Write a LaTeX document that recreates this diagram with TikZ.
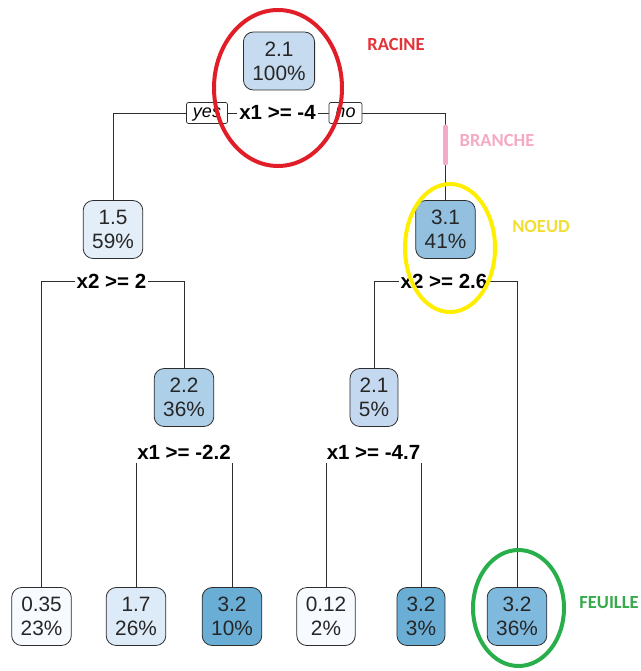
\documentclass[tikz,border=0pt]{standalone}
\usepackage{fontspec}
\setmainfont{Liberation Sans}
\newfontfamily\carlito{Carlito}
\usetikzlibrary{backgrounds}
\definecolor{cA}{RGB}{198,219,239}
\definecolor{cB}{RGB}{227,238,249}
\definecolor{cC}{RGB}{146,192,222}
\definecolor{cD}{RGB}{173,207,232}
\definecolor{cE}{RGB}{196,217,240}
\definecolor{cF}{RGB}{247,251,255}
\definecolor{cG}{RGB}{221,234,247}
\definecolor{cH}{RGB}{106,174,214}
\definecolor{cI}{RGB}{128,185,222}
\definecolor{lineC}{RGB}{45,45,45}
\definecolor{redA}{RGB}{225,30,40}
\definecolor{yelA}{RGB}{255,238,0}
\definecolor{grnA}{RGB}{40,175,75}
\definecolor{pinkA}{RGB}{242,170,200}
\definecolor{txRed}{RGB}{228,50,55}
\definecolor{txPink}{RGB}{245,170,195}
\definecolor{txYel}{RGB}{242,222,50}
\definecolor{txGrn}{RGB}{55,170,75}
\tikzset{
  tnode/.style={draw=lineC, rounded corners=10pt, minimum height=58pt, inner xsep=9pt, inner ysep=2pt, align=center, font=\fontsize{20.8}{24}\selectfont, text=black!85, line width=0.8pt},
  split/.style={fill=white, inner xsep=2pt, inner ysep=3pt, font=\bfseries\fontsize{20.5}{24}\selectfont, text height=15pt, text depth=1pt},
  yn/.style={draw=lineC, fill=white, rounded corners=2pt, font=\itshape\fontsize{18}{20}\selectfont, inner xsep=6.5pt, inner ysep=0pt, text height=15pt, text depth=6pt, line width=0.7pt},
  conn/.style={draw=lineC, line width=0.8pt},
  annot/.style={font=\carlito\bfseries\fontsize{18.5}{20}\selectfont},
  ring/.style={line width=4pt}
}
\begin{document}
\begin{tikzpicture}[x=1pt,y=-1pt]
\useasboundingbox (0,0) rectangle (640,671);
% tree nodes
\node[tnode, fill=cA] (n1) at (279,61) {2.1\\100\%};
\node[split] (s1) at (277.5,113) {x1 >= -4};
\node[yn] (yes) at (207,113) {yes};
\node[yn] (no) at (345.5,113) {no};
\node[tnode, fill=cB] (n2) at (113,229.5) {1.5\\59\%};
\node[tnode, fill=cC] (n3) at (445.5,229.5) {3.1\\41\%};
\node[split] (s2) at (111.5,281) {x2 >= 2};
\node[split] (s3) at (444,281) {x2 >= 2.6};
\node[tnode, fill=cD] (n4) at (184,397.5) {2.2\\36\%};
\node[tnode, fill=cE] (n5) at (374,397.5) {2.1\\5\%};
\node[split] (s4) at (184,452) {x1 >= -2.2};
\node[split] (s5) at (373.5,452) {x1 >= -4.7};
\node[tnode, fill=cF] (l1) at (41.5,616.5) {0.35\\23\%};
\node[tnode, fill=cG] (l2) at (136,616.5) {1.7\\26\%};
\node[tnode, fill=cH] (l3) at (232,616.5) {3.2\\10\%};
\node[tnode, fill=cF] (l4) at (326,616.5) {0.12\\2\%};
\node[tnode, fill=cH] (l5) at (421,616.5) {3.2\\3\%};
\node[tnode, fill=cI] (l6) at (517,616.5) {3.2\\36\%};
% connectors
\begin{pgfonlayer}{background}
\draw[conn] (s1.center) -| (n2.north);
\draw[conn] (s1.center) -| (n3.north);
\draw[conn] (s2.center) -| (l1.north);
\draw[conn] (s2.center) -| (n4.north);
\draw[conn] (s3.center) -| (n5.north);
\draw[conn] (s3.center) -| (l6.north);
\draw[conn] (s4.center) -| (l2.north);
\draw[conn] (s4.center) -| (l3.north);
\draw[conn] (s5.center) -| (l4.north);
\draw[conn] (s5.center) -| (l5.north);
\end{pgfonlayer}
% annotations
\draw[pinkA, line width=5pt, line cap=round] (445.5,127) -- (445.5,163);
\draw[ring, redA] (278,88) ellipse [x radius=64, y radius=78];
\draw[ring, yelA] (450,248) ellipse [x radius=45, y radius=64];
\draw[ring, grnA] (518.5,608) ellipse [x radius=45.5, y radius=58];
\node[annot, text=txRed] (racine) at (396,44) {RACINE};
\node[annot, text=txPink] (branche) at (497,140) {BRANCHE};
\node[annot, text=txYel] (noeud) at (541,227) {NOEUD};
\node[annot, text=txGrn] (feuille) at (609,603) {FEUILLE};
\end{tikzpicture}
\end{document}
